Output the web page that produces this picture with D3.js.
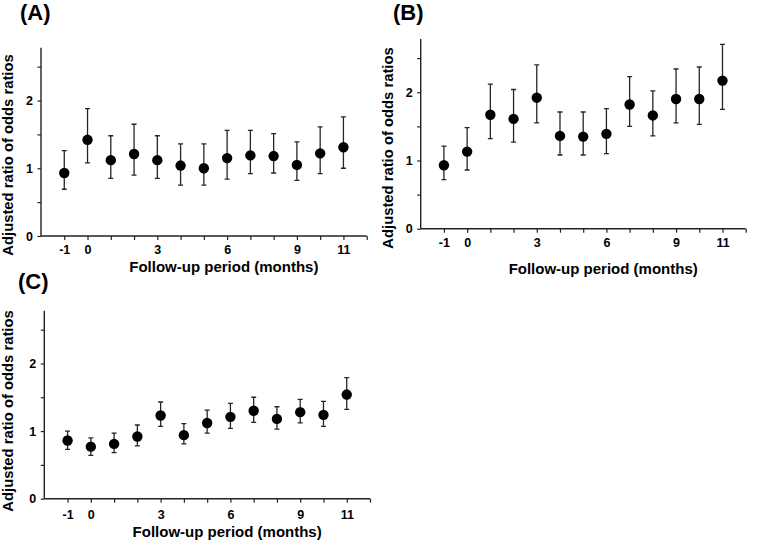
<!DOCTYPE html>
<html>
<head>
<meta charset="utf-8">
<script src="https://cdn.jsdelivr.net/npm/d3@7"></script>
<style>
  body { margin: 0; background: #fff; }
  svg { display: block; font-family: "Liberation Sans", Arial, sans-serif; }
</style>
</head>
<body>
<div id="chart"></div>
<script>
// follow-up months (x values shared by all panels)
const months = [-1, 0, 1, 2, 3, 4, 5, 6, 7, 8, 9, 10, 11];
const xTickLabels = [-1, 0, 3, 6, 9, 11];
const yTickLabels = [0, 1, 2];

// Panel A
const estA = [0.93, 1.42, 1.12, 1.21, 1.12, 1.04, 1.00, 1.15, 1.19, 1.18, 1.05, 1.22, 1.31];
const lowA = [0.69, 1.08, 0.85, 0.90, 0.85, 0.75, 0.75, 0.84, 0.92, 0.93, 0.82, 0.92, 1.00];
const upA  = [1.26, 1.88, 1.48, 1.65, 1.48, 1.36, 1.36, 1.56, 1.56, 1.51, 1.39, 1.61, 1.76];

// Panel B
const estB = [0.93, 1.13, 1.67, 1.61, 1.92, 1.36, 1.35, 1.39, 1.82, 1.66, 1.90, 1.90, 2.17];
const lowB = [0.72, 0.86, 1.32, 1.27, 1.55, 1.08, 1.08, 1.10, 1.50, 1.36, 1.55, 1.53, 1.75];
const upB  = [1.21, 1.48, 2.12, 2.04, 2.40, 1.71, 1.71, 1.76, 2.23, 2.02, 2.34, 2.37, 2.70];

// Panel C
const estC = [0.86, 0.77, 0.81, 0.92, 1.23, 0.94, 1.12, 1.21, 1.30, 1.18, 1.28, 1.24, 1.54];
const lowC = [0.73, 0.64, 0.68, 0.78, 1.07, 0.81, 0.97, 1.04, 1.13, 1.03, 1.12, 1.07, 1.32];
const upC  = [1.00, 0.90, 0.97, 1.09, 1.43, 1.11, 1.31, 1.41, 1.50, 1.36, 1.47, 1.44, 1.79];

const svgWidth = 763, svgHeight = 540;
const svg = d3.select("#chart").append("svg")
  .attr("width", svgWidth).attr("height", svgHeight);

// layout for each panel
const panels = [
  {tag: "(A)", est: estA, low: lowA, up: upA, x0: 41, x1: 366.7, y0: 236, y1: 47.7,
   tagX: 20, tagY: 20, tickPad: 5, xLabY: 272, yLabX: 12.5, yLabY: 155},
  {tag: "(B)", est: estB, low: lowB, up: upB, x0: 420.7, x1: 745.7, y0: 228.7, y1: 39,
   tagX: 393, tagY: 20, tickPad: 5.5, xLabY: 274, yLabX: 392.5, yLabY: 148},
  {tag: "(C)", est: estC, low: lowC, up: upC, x0: 44.3, x1: 370, y0: 498.7, y1: 310.7,
   tagX: 18, tagY: 289, tickPad: 7.5, xLabY: 536.5, yLabX: 12.5, yLabY: 411}
];

const axisColor = "#222";

panels.forEach(p => {
  const g = svg.append("g");
  const x = d3.scaleLinear().domain([-2, 12]).range([p.x0, p.x1]);
  const y = d3.scaleLinear().domain([0, 2.78]).range([p.y0, p.y1]);

  // x axis: ticks every month, labels only on some
  const xAxis = d3.axisBottom(x)
    .tickValues(d3.range(-1, 13))
    .tickSize(4).tickPadding(p.tickPad)
    .tickSizeOuter(0)
    .tickFormat(d => xTickLabels.includes(d) ? String(d) : "");
  const xg = g.append("g").attr("transform", `translate(0,${p.y0})`).call(xAxis);

  // y axis: ticks every 0.5
  const yAxis = d3.axisLeft(y)
    .tickValues(d3.range(0, 2.75, 0.5))
    .tickSize(3.5).tickPadding(4.5)
    .tickSizeOuter(0)
    .tickFormat(d => yTickLabels.includes(d) ? String(d) : "");
  const yg = g.append("g").attr("transform", `translate(${p.x0},0)`).call(yAxis);

  [xg, yg].forEach(a => {
    a.select(".domain").attr("stroke", axisColor).attr("stroke-width", 1.4);
    a.selectAll(".tick line").attr("stroke", axisColor).attr("stroke-width", 1.2);
    a.selectAll(".tick text").attr("fill", "#000")
      .style("font-size", "12.5px").style("font-weight", "bold");
  });
  // axis lines start at the corner
  xg.select(".domain").attr("d", `M${p.x0},0H${p.x1}`);
  yg.select(".domain").attr("d", `M0,${p.y0}V${p.y1}`);

  const rows = months.map((m, i) => ({m: m, est: p.est[i], low: p.low[i], up: p.up[i]}));

  // error bars
  const bars = g.append("g").attr("stroke", "#262626").attr("stroke-width", 1.3).attr("fill", "none");
  bars.selectAll("path").data(rows).enter().append("path")
    .attr("d", d => {
      const cx = x(d.m), cap = 2.5;
      return `M${cx},${y(d.low)}V${y(d.up)}` +
        `M${cx - cap},${y(d.up)}H${cx + cap}` +
        `M${cx - cap},${y(d.low)}H${cx + cap}`;
    });

  // point estimates
  g.append("g").selectAll("circle").data(rows).enter().append("circle")
    .attr("cx", d => x(d.m))
    .attr("cy", d => y(d.est))
    .attr("r", 5.2)
    .attr("fill", "#000");

  // labels
  g.append("text")
    .attr("x", p.tagX).attr("y", p.tagY)
    .style("font-size", "22px").style("font-weight", "bold")
    .text(p.tag);

  g.append("text")
    .attr("x", (p.x0 + p.x1) / 2 + 20).attr("y", p.xLabY)
    .attr("text-anchor", "middle")
    .style("font-size", "15px").style("font-weight", "bold")
    .text("Follow-up period (months)");

  g.append("text")
    .attr("transform", `translate(${p.yLabX},${p.yLabY}) rotate(-90)`)
    .attr("text-anchor", "middle")
    .style("font-size", "14.8px").style("font-weight", "bold")
    .text("Adjusted ratio of odds ratios");
});
</script>
</body>
</html>
